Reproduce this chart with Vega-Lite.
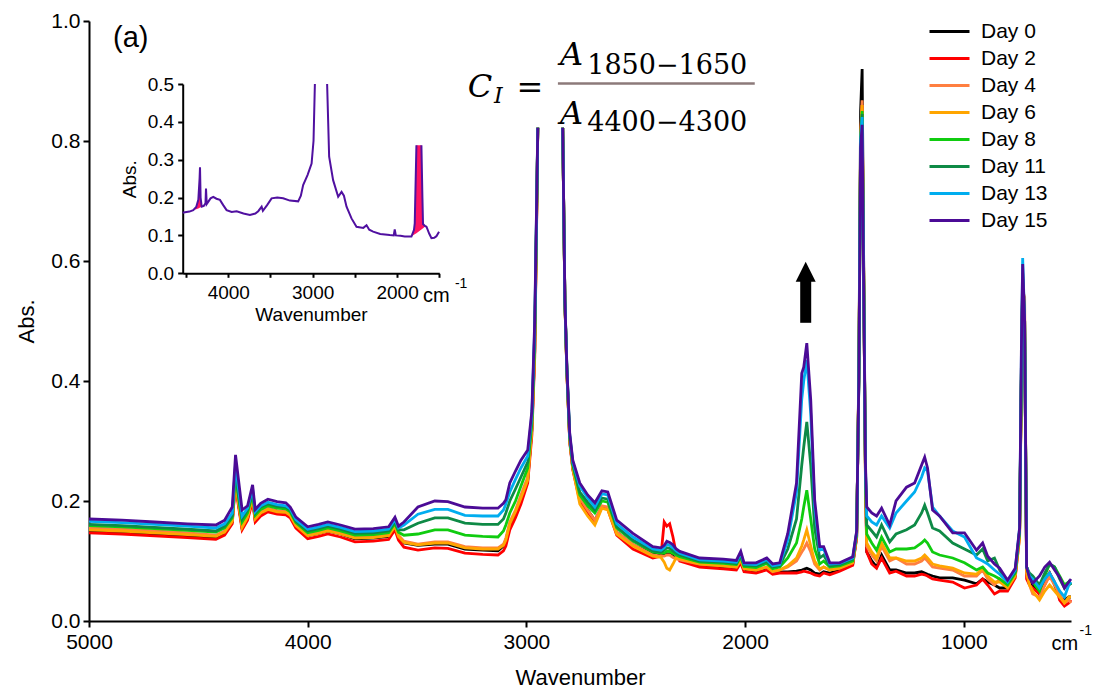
{
  "$schema": "https://vega.github.io/schema/vega-lite/v6.json",
  "width": 982,
  "height": 600,
  "autosize": {"type": "none"},
  "padding": {"left": 89, "top": 21, "right": 26, "bottom": 71},
  "background": "white",
  "config": {
    "view": {"stroke": null},
    "axis": {"grid": false, "domainColor": "#000", "tickColor": "#000", "labelColor": "#000", "titleColor": "#000", "labelFont": "Liberation Sans", "titleFont": "Liberation Sans", "titleFontWeight": "normal", "domainWidth": 2, "tickWidth": 2, "labelFlush": false, "labelOverlap": false, "labelFontSize": 21, "titleFontSize": 22},
    "text": {"font": "Liberation Sans", "color": "#000"}
  },
  "datasets": {
    "spectra": [
      {"wn":5000,"seg":"a","d0":0.150,"d2":0.147,"d4":0.155,"d6":0.152,"d8":0.159,"d11":0.161,"d13":0.166,"d15":0.170},
      {"wn":4850,"seg":"a","d0":0.148,"d2":0.145,"d4":0.153,"d6":0.150,"d8":0.157,"d11":0.159,"d13":0.164,"d15":0.168},
      {"wn":4700,"seg":"a","d0":0.145,"d2":0.142,"d4":0.150,"d6":0.147,"d8":0.154,"d11":0.156,"d13":0.161,"d15":0.165},
      {"wn":4550,"seg":"a","d0":0.142,"d2":0.139,"d4":0.147,"d6":0.144,"d8":0.151,"d11":0.153,"d13":0.158,"d15":0.162},
      {"wn":4420,"seg":"a","d0":0.139,"d2":0.136,"d4":0.143,"d6":0.141,"d8":0.148,"d11":0.150,"d13":0.155,"d15":0.160},
      {"wn":4380,"seg":"a","d0":0.146,"d2":0.143,"d4":0.150,"d6":0.148,"d8":0.155,"d11":0.158,"d13":0.162,"d15":0.168},
      {"wn":4345,"seg":"a","d0":0.165,"d2":0.162,"d4":0.168,"d6":0.166,"d8":0.172,"d11":0.175,"d13":0.180,"d15":0.190},
      {"wn":4330,"seg":"a","d0":0.238,"d2":0.232,"d4":0.240,"d6":0.238,"d8":0.248,"d11":0.255,"d13":0.262,"d15":0.277},
      {"wn":4318,"seg":"a","d0":0.200,"d2":0.195,"d4":0.205,"d6":0.200,"d8":0.210,"d11":0.215,"d13":0.225,"d15":0.240},
      {"wn":4300,"seg":"a","d0":0.155,"d2":0.152,"d4":0.158,"d6":0.156,"d8":0.165,"d11":0.170,"d13":0.175,"d15":0.185},
      {"wn":4275,"seg":"a","d0":0.172,"d2":0.168,"d4":0.175,"d6":0.173,"d8":0.180,"d11":0.185,"d13":0.188,"d15":0.192},
      {"wn":4252,"seg":"a","d0":0.205,"d2":0.200,"d4":0.208,"d6":0.206,"d8":0.212,"d11":0.215,"d13":0.220,"d15":0.227},
      {"wn":4240,"seg":"a","d0":0.168,"d2":0.165,"d4":0.172,"d6":0.170,"d8":0.176,"d11":0.180,"d13":0.182,"d15":0.186},
      {"wn":4215,"seg":"a","d0":0.178,"d2":0.175,"d4":0.182,"d6":0.180,"d8":0.186,"d11":0.190,"d13":0.192,"d15":0.196},
      {"wn":4182,"seg":"a","d0":0.186,"d2":0.182,"d4":0.188,"d6":0.186,"d8":0.192,"d11":0.195,"d13":0.198,"d15":0.203},
      {"wn":4140,"seg":"a","d0":0.182,"d2":0.178,"d4":0.184,"d6":0.182,"d8":0.188,"d11":0.191,"d13":0.194,"d15":0.199},
      {"wn":4100,"seg":"a","d0":0.181,"d2":0.177,"d4":0.183,"d6":0.181,"d8":0.187,"d11":0.190,"d13":0.192,"d15":0.197},
      {"wn":4080,"seg":"a","d0":0.176,"d2":0.172,"d4":0.178,"d6":0.176,"d8":0.182,"d11":0.185,"d13":0.187,"d15":0.190},
      {"wn":4054,"seg":"a","d0":0.160,"d2":0.155,"d4":0.161,"d6":0.159,"d8":0.164,"d11":0.166,"d13":0.169,"d15":0.173},
      {"wn":4000,"seg":"a","d0":0.142,"d2":0.137,"d4":0.144,"d6":0.142,"d8":0.147,"d11":0.150,"d13":0.153,"d15":0.157},
      {"wn":3950,"seg":"a","d0":0.146,"d2":0.141,"d4":0.148,"d6":0.146,"d8":0.151,"d11":0.154,"d13":0.157,"d15":0.161},
      {"wn":3908,"seg":"a","d0":0.150,"d2":0.145,"d4":0.152,"d6":0.150,"d8":0.155,"d11":0.158,"d13":0.161,"d15":0.165},
      {"wn":3850,"seg":"a","d0":0.145,"d2":0.140,"d4":0.147,"d6":0.145,"d8":0.150,"d11":0.153,"d13":0.156,"d15":0.160},
      {"wn":3784,"seg":"a","d0":0.137,"d2":0.132,"d4":0.140,"d6":0.138,"d8":0.143,"d11":0.146,"d13":0.149,"d15":0.153},
      {"wn":3700,"seg":"a","d0":0.138,"d2":0.133,"d4":0.141,"d6":0.139,"d8":0.144,"d11":0.147,"d13":0.150,"d15":0.154},
      {"wn":3630,"seg":"a","d0":0.141,"d2":0.136,"d4":0.144,"d6":0.142,"d8":0.147,"d11":0.150,"d13":0.153,"d15":0.157},
      {"wn":3601,"seg":"a","d0":0.158,"d2":0.152,"d4":0.160,"d6":0.158,"d8":0.163,"d11":0.166,"d13":0.169,"d15":0.173},
      {"wn":3585,"seg":"a","d0":0.140,"d2":0.135,"d4":0.143,"d6":0.141,"d8":0.148,"d11":0.152,"d13":0.155,"d15":0.158},
      {"wn":3560,"seg":"a","d0":0.130,"d2":0.123,"d4":0.133,"d6":0.131,"d8":0.143,"d11":0.152,"d13":0.160,"d15":0.165},
      {"wn":3496,"seg":"a","d0":0.126,"d2":0.118,"d4":0.128,"d6":0.127,"d8":0.145,"d11":0.163,"d13":0.178,"d15":0.190},
      {"wn":3419,"seg":"a","d0":0.128,"d2":0.122,"d4":0.132,"d6":0.130,"d8":0.152,"d11":0.172,"d13":0.186,"d15":0.200},
      {"wn":3359,"seg":"a","d0":0.128,"d2":0.121,"d4":0.132,"d6":0.130,"d8":0.152,"d11":0.172,"d13":0.186,"d15":0.199},
      {"wn":3281,"seg":"a","d0":0.120,"d2":0.113,"d4":0.124,"d6":0.122,"d8":0.143,"d11":0.163,"d13":0.176,"d15":0.190},
      {"wn":3200,"seg":"a","d0":0.118,"d2":0.111,"d4":0.122,"d6":0.120,"d8":0.141,"d11":0.161,"d13":0.175,"d15":0.188},
      {"wn":3130,"seg":"a","d0":0.117,"d2":0.110,"d4":0.122,"d6":0.120,"d8":0.140,"d11":0.161,"d13":0.175,"d15":0.188},
      {"wn":3105,"seg":"a","d0":0.125,"d2":0.117,"d4":0.128,"d6":0.126,"d8":0.150,"d11":0.170,"d13":0.185,"d15":0.196},
      {"wn":3094,"seg":"a","d0":0.135,"d2":0.125,"d4":0.138,"d6":0.135,"d8":0.160,"d11":0.180,"d13":0.195,"d15":0.202},
      {"wn":3076,"seg":"a","d0":0.160,"d2":0.152,"d4":0.165,"d6":0.162,"d8":0.180,"d11":0.200,"d13":0.215,"d15":0.230},
      {"wn":3050,"seg":"a","d0":0.180,"d2":0.172,"d4":0.185,"d6":0.182,"d8":0.200,"d11":0.220,"d13":0.236,"d15":0.250},
      {"wn":3025,"seg":"a","d0":0.205,"d2":0.195,"d4":0.210,"d6":0.205,"d8":0.225,"d11":0.240,"d13":0.255,"d15":0.268},
      {"wn":2994,"seg":"a","d0":0.235,"d2":0.230,"d4":0.240,"d6":0.235,"d8":0.255,"d11":0.265,"d13":0.275,"d15":0.285},
      {"wn":2975,"seg":"a","d0":0.320,"d2":0.310,"d4":0.325,"d6":0.320,"d8":0.330,"d11":0.338,"d13":0.345,"d15":0.350},
      {"wn":2962,"seg":"a","d0":0.450,"d2":0.440,"d4":0.455,"d6":0.450,"d8":0.470,"d11":0.480,"d13":0.490,"d15":0.500},
      {"wn":2953,"seg":"a","d0":0.680,"d2":0.670,"d4":0.685,"d6":0.680,"d8":0.690,"d11":0.695,"d13":0.700,"d15":0.705},
      {"wn":2948,"seg":"a","d0":0.822,"d2":0.822,"d4":0.822,"d6":0.822,"d8":0.822,"d11":0.822,"d13":0.822,"d15":0.822},
      {"wn":2834,"seg":"b","d0":0.822,"d2":0.822,"d4":0.822,"d6":0.822,"d8":0.822,"d11":0.822,"d13":0.822,"d15":0.822},
      {"wn":2824,"seg":"b","d0":0.530,"d2":0.530,"d4":0.530,"d6":0.530,"d8":0.532,"d11":0.533,"d13":0.534,"d15":0.535},
      {"wn":2815,"seg":"b","d0":0.415,"d2":0.412,"d4":0.416,"d6":0.415,"d8":0.418,"d11":0.420,"d13":0.422,"d15":0.423},
      {"wn":2802,"seg":"b","d0":0.300,"d2":0.298,"d4":0.302,"d6":0.300,"d8":0.305,"d11":0.308,"d13":0.310,"d15":0.313},
      {"wn":2788,"seg":"b","d0":0.255,"d2":0.252,"d4":0.256,"d6":0.254,"d8":0.260,"d11":0.262,"d13":0.265,"d15":0.268},
      {"wn":2756,"seg":"b","d0":0.205,"d2":0.200,"d4":0.205,"d6":0.195,"d8":0.210,"d11":0.215,"d13":0.225,"d15":0.230},
      {"wn":2720,"seg":"b","d0":0.185,"d2":0.180,"d4":0.185,"d6":0.175,"d8":0.192,"d11":0.198,"d13":0.205,"d15":0.210},
      {"wn":2687,"seg":"b","d0":0.168,"d2":0.165,"d4":0.168,"d6":0.160,"d8":0.180,"d11":0.185,"d13":0.190,"d15":0.197},
      {"wn":2655,"seg":"b","d0":0.190,"d2":0.190,"d4":0.192,"d6":0.188,"d8":0.200,"d11":0.205,"d13":0.212,"d15":0.217},
      {"wn":2628,"seg":"b","d0":0.188,"d2":0.186,"d4":0.190,"d6":0.185,"d8":0.198,"d11":0.203,"d13":0.210,"d15":0.215},
      {"wn":2587,"seg":"b","d0":0.148,"d2":0.143,"d4":0.148,"d6":0.145,"d8":0.155,"d11":0.157,"d13":0.162,"d15":0.168},
      {"wn":2513,"seg":"b","d0":0.127,"d2":0.120,"d4":0.128,"d6":0.125,"d8":0.133,"d11":0.135,"d13":0.140,"d15":0.146},
      {"wn":2422,"seg":"b","d0":0.112,"d2":0.105,"d4":0.110,"d6":0.108,"d8":0.115,"d11":0.117,"d13":0.120,"d15":0.124},
      {"wn":2385,"seg":"b","d0":0.110,"d2":0.108,"d4":0.108,"d6":0.106,"d8":0.113,"d11":0.115,"d13":0.118,"d15":0.122},
      {"wn":2370,"seg":"b","d0":0.110,"d2":0.165,"d4":0.108,"d6":0.098,"d8":0.113,"d11":0.118,"d13":0.122,"d15":0.126},
      {"wn":2358,"seg":"b","d0":0.112,"d2":0.158,"d4":0.110,"d6":0.088,"d8":0.116,"d11":0.122,"d13":0.128,"d15":0.133},
      {"wn":2345,"seg":"b","d0":0.112,"d2":0.162,"d4":0.110,"d6":0.085,"d8":0.116,"d11":0.121,"d13":0.126,"d15":0.131},
      {"wn":2330,"seg":"b","d0":0.108,"d2":0.140,"d4":0.106,"d6":0.095,"d8":0.113,"d11":0.117,"d13":0.122,"d15":0.127},
      {"wn":2315,"seg":"b","d0":0.105,"d2":0.112,"d4":0.104,"d6":0.106,"d8":0.110,"d11":0.113,"d13":0.117,"d15":0.120},
      {"wn":2299,"seg":"b","d0":0.103,"d2":0.100,"d4":0.102,"d6":0.104,"d8":0.107,"d11":0.110,"d13":0.113,"d15":0.116},
      {"wn":2208,"seg":"b","d0":0.093,"d2":0.090,"d4":0.095,"d6":0.095,"d8":0.098,"d11":0.100,"d13":0.102,"d15":0.105},
      {"wn":2100,"seg":"b","d0":0.090,"d2":0.087,"d4":0.092,"d6":0.092,"d8":0.096,"d11":0.098,"d13":0.100,"d15":0.103},
      {"wn":2040,"seg":"b","d0":0.088,"d2":0.085,"d4":0.090,"d6":0.090,"d8":0.094,"d11":0.096,"d13":0.098,"d15":0.101},
      {"wn":2020,"seg":"b","d0":0.100,"d2":0.097,"d4":0.102,"d6":0.102,"d8":0.107,"d11":0.110,"d13":0.113,"d15":0.116},
      {"wn":2005,"seg":"b","d0":0.085,"d2":0.082,"d4":0.087,"d6":0.087,"d8":0.091,"d11":0.093,"d13":0.095,"d15":0.097},
      {"wn":1950,"seg":"b","d0":0.083,"d2":0.080,"d4":0.085,"d6":0.085,"d8":0.089,"d11":0.092,"d13":0.094,"d15":0.097},
      {"wn":1901,"seg":"b","d0":0.088,"d2":0.085,"d4":0.090,"d6":0.090,"d8":0.096,"d11":0.099,"d13":0.102,"d15":0.105},
      {"wn":1874,"seg":"b","d0":0.080,"d2":0.078,"d4":0.082,"d6":0.083,"d8":0.087,"d11":0.090,"d13":0.092,"d15":0.095},
      {"wn":1842,"seg":"b","d0":0.082,"d2":0.080,"d4":0.085,"d6":0.085,"d8":0.090,"d11":0.092,"d13":0.094,"d15":0.097},
      {"wn":1805,"seg":"b","d0":0.082,"d2":0.080,"d4":0.090,"d6":0.092,"d8":0.105,"d11":0.120,"d13":0.135,"d15":0.146},
      {"wn":1765,"seg":"b","d0":0.083,"d2":0.080,"d4":0.100,"d6":0.105,"d8":0.130,"d11":0.170,"d13":0.215,"d15":0.230},
      {"wn":1741,"seg":"b","d0":0.085,"d2":0.082,"d4":0.115,"d6":0.125,"d8":0.170,"d11":0.260,"d13":0.370,"d15":0.413},
      {"wn":1732,"seg":"b","d0":0.086,"d2":0.083,"d4":0.120,"d6":0.135,"d8":0.190,"d11":0.290,"d13":0.400,"d15":0.423},
      {"wn":1718,"seg":"b","d0":0.088,"d2":0.082,"d4":0.130,"d6":0.152,"d8":0.218,"d11":0.332,"d13":0.435,"d15":0.463},
      {"wn":1700,"seg":"b","d0":0.085,"d2":0.080,"d4":0.115,"d6":0.125,"d8":0.170,"d11":0.260,"d13":0.345,"d15":0.368},
      {"wn":1682,"seg":"b","d0":0.080,"d2":0.077,"d4":0.095,"d6":0.100,"d8":0.120,"d11":0.155,"d13":0.190,"d15":0.202},
      {"wn":1659,"seg":"b","d0":0.078,"d2":0.075,"d4":0.085,"d6":0.087,"d8":0.095,"d11":0.105,"d13":0.118,"d15":0.124},
      {"wn":1641,"seg":"b","d0":0.082,"d2":0.080,"d4":0.090,"d6":0.090,"d8":0.100,"d11":0.110,"d13":0.120,"d15":0.124},
      {"wn":1613,"seg":"b","d0":0.080,"d2":0.077,"d4":0.085,"d6":0.085,"d8":0.090,"d11":0.092,"d13":0.095,"d15":0.097},
      {"wn":1568,"seg":"b","d0":0.085,"d2":0.083,"d4":0.088,"d6":0.088,"d8":0.092,"d11":0.094,"d13":0.096,"d15":0.097},
      {"wn":1508,"seg":"b","d0":0.095,"d2":0.093,"d4":0.097,"d6":0.097,"d8":0.100,"d11":0.103,"d13":0.105,"d15":0.107},
      {"wn":1490,"seg":"b","d0":0.140,"d2":0.138,"d4":0.142,"d6":0.142,"d8":0.145,"d11":0.147,"d13":0.149,"d15":0.150},
      {"wn":1480,"seg":"b","d0":0.420,"d2":0.410,"d4":0.410,"d6":0.410,"d8":0.405,"d11":0.400,"d13":0.400,"d15":0.400},
      {"wn":1472,"seg":"b","d0":0.850,"d2":0.800,"d4":0.810,"d6":0.805,"d8":0.800,"d11":0.800,"d13":0.800,"d15":0.790},
      {"wn":1465,"seg":"b","d0":0.920,"d2":0.860,"d4":0.868,"d6":0.860,"d8":0.850,"d11":0.845,"d13":0.840,"d15":0.827},
      {"wn":1458,"seg":"b","d0":0.600,"d2":0.580,"d4":0.590,"d6":0.580,"d8":0.580,"d11":0.575,"d13":0.570,"d15":0.560},
      {"wn":1450,"seg":"b","d0":0.260,"d2":0.240,"d4":0.245,"d6":0.245,"d8":0.250,"d11":0.255,"d13":0.260,"d15":0.265},
      {"wn":1444,"seg":"b","d0":0.115,"d2":0.115,"d4":0.125,"d6":0.130,"d8":0.145,"d11":0.160,"d13":0.175,"d15":0.190},
      {"wn":1421,"seg":"b","d0":0.100,"d2":0.095,"d4":0.110,"d6":0.115,"d8":0.130,"d11":0.150,"d13":0.165,"d15":0.180},
      {"wn":1399,"seg":"b","d0":0.090,"d2":0.088,"d4":0.100,"d6":0.105,"d8":0.118,"d11":0.140,"d13":0.160,"d15":0.175},
      {"wn":1376,"seg":"b","d0":0.110,"d2":0.105,"d4":0.125,"d6":0.130,"d8":0.140,"d11":0.160,"d13":0.175,"d15":0.188},
      {"wn":1339,"seg":"b","d0":0.085,"d2":0.080,"d4":0.100,"d6":0.105,"d8":0.115,"d11":0.132,"d13":0.155,"d15":0.160},
      {"wn":1310,"seg":"b","d0":0.085,"d2":0.083,"d4":0.105,"d6":0.105,"d8":0.120,"d11":0.145,"d13":0.180,"d15":0.200},
      {"wn":1262,"seg":"b","d0":0.080,"d2":0.075,"d4":0.095,"d6":0.100,"d8":0.120,"d11":0.152,"d13":0.200,"d15":0.223},
      {"wn":1225,"seg":"b","d0":0.080,"d2":0.075,"d4":0.095,"d6":0.100,"d8":0.122,"d11":0.160,"d13":0.215,"d15":0.230},
      {"wn":1193,"seg":"b","d0":0.082,"d2":0.078,"d4":0.100,"d6":0.105,"d8":0.130,"d11":0.180,"d13":0.240,"d15":0.260},
      {"wn":1179,"seg":"b","d0":0.080,"d2":0.077,"d4":0.105,"d6":0.110,"d8":0.135,"d11":0.193,"d13":0.255,"d15":0.273},
      {"wn":1166,"seg":"b","d0":0.078,"d2":0.075,"d4":0.100,"d6":0.105,"d8":0.130,"d11":0.180,"d13":0.250,"d15":0.255},
      {"wn":1143,"seg":"b","d0":0.075,"d2":0.070,"d4":0.090,"d6":0.095,"d8":0.115,"d11":0.155,"d13":0.190,"d15":0.185},
      {"wn":1111,"seg":"b","d0":0.072,"d2":0.068,"d4":0.088,"d6":0.092,"d8":0.110,"d11":0.150,"d13":0.175,"d15":0.175},
      {"wn":1051,"seg":"b","d0":0.072,"d2":0.065,"d4":0.085,"d6":0.088,"d8":0.105,"d11":0.130,"d13":0.150,"d15":0.147},
      {"wn":997,"seg":"b","d0":0.068,"d2":0.055,"d4":0.075,"d6":0.080,"d8":0.097,"d11":0.120,"d13":0.140,"d15":0.147},
      {"wn":942,"seg":"b","d0":0.062,"d2":0.060,"d4":0.075,"d6":0.078,"d8":0.085,"d11":0.110,"d13":0.105,"d15":0.118},
      {"wn":914,"seg":"b","d0":0.070,"d2":0.070,"d4":0.085,"d6":0.088,"d8":0.090,"d11":0.120,"d13":0.100,"d15":0.130},
      {"wn":891,"seg":"b","d0":0.065,"d2":0.060,"d4":0.070,"d6":0.075,"d8":0.080,"d11":0.100,"d13":0.095,"d15":0.108},
      {"wn":860,"seg":"b","d0":0.060,"d2":0.045,"d4":0.060,"d6":0.065,"d8":0.075,"d11":0.105,"d13":0.085,"d15":0.095},
      {"wn":836,"seg":"b","d0":0.055,"d2":0.050,"d4":0.070,"d6":0.065,"d8":0.070,"d11":0.085,"d13":0.078,"d15":0.088},
      {"wn":800,"seg":"b","d0":0.055,"d2":0.050,"d4":0.060,"d6":0.055,"d8":0.060,"d11":0.065,"d13":0.065,"d15":0.068},
      {"wn":765,"seg":"b","d0":0.075,"d2":0.072,"d4":0.078,"d6":0.075,"d8":0.080,"d11":0.082,"d13":0.085,"d15":0.088},
      {"wn":745,"seg":"b","d0":0.150,"d2":0.140,"d4":0.145,"d6":0.140,"d8":0.150,"d11":0.150,"d13":0.155,"d15":0.155},
      {"wn":737,"seg":"b","d0":0.400,"d2":0.400,"d4":0.420,"d6":0.400,"d8":0.410,"d11":0.420,"d13":0.440,"d15":0.450},
      {"wn":731,"seg":"b","d0":0.570,"d2":0.560,"d4":0.550,"d6":0.560,"d8":0.570,"d11":0.580,"d13":0.605,"d15":0.595},
      {"wn":722,"seg":"b","d0":0.500,"d2":0.500,"d4":0.540,"d6":0.500,"d8":0.500,"d11":0.500,"d13":0.500,"d15":0.500},
      {"wn":713,"seg":"b","d0":0.090,"d2":0.070,"d4":0.085,"d6":0.080,"d8":0.090,"d11":0.090,"d13":0.090,"d15":0.090},
      {"wn":700,"seg":"b","d0":0.070,"d2":0.060,"d4":0.060,"d6":0.060,"d8":0.075,"d11":0.080,"d13":0.075,"d15":0.072},
      {"wn":685,"seg":"b","d0":0.060,"d2":0.055,"d4":0.045,"d6":0.050,"d8":0.065,"d11":0.075,"d13":0.070,"d15":0.063},
      {"wn":654,"seg":"b","d0":0.045,"d2":0.045,"d4":0.040,"d6":0.035,"d8":0.050,"d11":0.060,"d13":0.055,"d15":0.075},
      {"wn":630,"seg":"b","d0":0.070,"d2":0.060,"d4":0.060,"d6":0.050,"d8":0.075,"d11":0.080,"d13":0.070,"d15":0.090},
      {"wn":608,"seg":"b","d0":0.080,"d2":0.080,"d4":0.075,"d6":0.060,"d8":0.095,"d11":0.095,"d13":0.080,"d15":0.098},
      {"wn":585,"seg":"b","d0":0.060,"d2":0.065,"d4":0.060,"d6":0.050,"d8":0.090,"d11":0.090,"d13":0.065,"d15":0.085},
      {"wn":562,"seg":"b","d0":0.040,"d2":0.035,"d4":0.045,"d6":0.040,"d8":0.075,"d11":0.070,"d13":0.050,"d15":0.073},
      {"wn":540,"seg":"b","d0":0.035,"d2":0.025,"d4":0.030,"d6":0.030,"d8":0.060,"d11":0.055,"d13":0.040,"d15":0.055},
      {"wn":520,"seg":"b","d0":0.040,"d2":0.030,"d4":0.035,"d6":0.040,"d8":0.065,"d11":0.065,"d13":0.060,"d15":0.065},
      {"wn":510,"seg":"b","d0":0.040,"d2":0.035,"d4":0.030,"d6":0.040,"d8":0.060,"d11":0.060,"d13":0.065,"d15":0.070}
    ],
    "inset": [
      {"wn":4540,"abs":0.160,"seg":"a"},{"wn":4513,"abs":0.161,"seg":"a"},{"wn":4460,"abs":0.163,"seg":"a"},{"wn":4415,"abs":0.167,"seg":"a"},
      {"wn":4380,"abs":0.175,"seg":"a"},{"wn":4355,"abs":0.194,"seg":"a"},{"wn":4340,"abs":0.250,"seg":"a"},{"wn":4335,"abs":0.280,"seg":"a"},
      {"wn":4328,"abs":0.200,"seg":"a"},{"wn":4315,"abs":0.176,"seg":"a"},{"wn":4290,"abs":0.178,"seg":"a"},{"wn":4270,"abs":0.185,"seg":"a"},
      {"wn":4264,"abs":0.224,"seg":"a"},{"wn":4255,"abs":0.183,"seg":"a"},{"wn":4240,"abs":0.188,"seg":"a"},{"wn":4210,"abs":0.198,"seg":"a"},
      {"wn":4178,"abs":0.202,"seg":"a"},{"wn":4140,"abs":0.197,"seg":"a"},{"wn":4099,"abs":0.194,"seg":"a"},{"wn":4060,"abs":0.180,"seg":"a"},
      {"wn":4020,"abs":0.167,"seg":"a"},{"wn":3960,"abs":0.162,"seg":"a"},{"wn":3901,"abs":0.164,"seg":"a"},{"wn":3820,"abs":0.158,"seg":"a"},
      {"wn":3744,"abs":0.154,"seg":"a"},{"wn":3680,"abs":0.158,"seg":"a"},{"wn":3645,"abs":0.164,"seg":"a"},{"wn":3605,"abs":0.176,"seg":"a"},
      {"wn":3590,"abs":0.165,"seg":"a"},{"wn":3540,"abs":0.180,"seg":"a"},{"wn":3487,"abs":0.198,"seg":"a"},{"wn":3420,"abs":0.200,"seg":"a"},
      {"wn":3350,"abs":0.198,"seg":"a"},{"wn":3270,"abs":0.192,"seg":"a"},{"wn":3172,"abs":0.190,"seg":"a"},{"wn":3140,"abs":0.205,"seg":"a"},
      {"wn":3113,"abs":0.233,"seg":"a"},{"wn":3060,"abs":0.260,"seg":"a"},{"wn":3013,"abs":0.290,"seg":"a"},{"wn":2990,"abs":0.350,"seg":"a"},
      {"wn":2974,"abs":0.500,"seg":"a"},
      {"wn":2829,"abs":0.500,"seg":"b"},{"wn":2805,"abs":0.308,"seg":"b"},{"wn":2758,"abs":0.246,"seg":"b"},{"wn":2698,"abs":0.202,"seg":"b"},
      {"wn":2658,"abs":0.215,"seg":"b"},{"wn":2630,"abs":0.205,"seg":"b"},{"wn":2599,"abs":0.176,"seg":"b"},{"wn":2540,"abs":0.145,"seg":"b"},
      {"wn":2481,"abs":0.123,"seg":"b"},{"wn":2400,"abs":0.120,"seg":"b"},{"wn":2362,"abs":0.127,"seg":"b"},{"wn":2330,"abs":0.115,"seg":"b"},
      {"wn":2284,"abs":0.110,"seg":"b"},{"wn":2200,"abs":0.104,"seg":"b"},{"wn":2087,"abs":0.101,"seg":"b"},{"wn":2040,"abs":0.100,"seg":"b"},
      {"wn":2028,"abs":0.116,"seg":"b"},{"wn":2015,"abs":0.100,"seg":"b"},{"wn":1960,"abs":0.099,"seg":"b"},{"wn":1909,"abs":0.097,"seg":"b"},
      {"wn":1830,"abs":0.097,"seg":"b"},{"wn":1800,"abs":0.115,"seg":"b"},{"wn":1791,"abs":0.132,"seg":"b"},{"wn":1771,"abs":0.338,"seg":"b"},
      {"wn":1712,"abs":0.338,"seg":"c"},{"wn":1700,"abs":0.200,"seg":"c"},{"wn":1693,"abs":0.130,"seg":"c"},{"wn":1670,"abs":0.125,"seg":"c"},
      {"wn":1652,"abs":0.123,"seg":"c"},{"wn":1620,"abs":0.105,"seg":"c"},{"wn":1593,"abs":0.093,"seg":"c"},{"wn":1560,"abs":0.094,"seg":"c"},
      {"wn":1534,"abs":0.098,"seg":"c"},{"wn":1503,"abs":0.110,"seg":"c"}
    ],
    "insetFill": [
      {"wn":4394,"abs":0.168,"base":0.168,"grp":"a"},{"wn":4380,"abs":0.175,"base":0.169,"grp":"a"},{"wn":4355,"abs":0.194,"base":0.171,"grp":"a"},
      {"wn":4340,"abs":0.250,"base":0.173,"grp":"a"},{"wn":4335,"abs":0.280,"base":0.174,"grp":"a"},{"wn":4328,"abs":0.200,"base":0.175,"grp":"a"},
      {"wn":4315,"abs":0.176,"base":0.176,"grp":"a"},
      {"wn":1830,"abs":0.097,"base":0.097,"grp":"b"},{"wn":1800,"abs":0.115,"base":0.102,"grp":"b"},{"wn":1791,"abs":0.132,"base":0.103,"grp":"b"},
      {"wn":1771,"abs":0.338,"base":0.106,"grp":"b"},{"wn":1712,"abs":0.338,"base":0.116,"grp":"b"},{"wn":1700,"abs":0.200,"base":0.118,"grp":"b"},
      {"wn":1693,"abs":0.130,"base":0.119,"grp":"b"},{"wn":1670,"abs":0.125,"base":0.123,"grp":"b"},{"wn":1660,"abs":0.124,"base":0.124,"grp":"b"}
    ]
  },
  "layer": [
    {
      "encoding": {
        "x": {"field": "wn", "type": "quantitative", "scale": {"domain": [510, 5000], "reverse": true, "nice": false, "zero": false},
              "axis": {"values": [5000, 4000, 3000, 2000, 1000], "format": "d", "title": "Wavenumber", "tickSize": 6, "labelPadding": 4, "titlePadding": 15}},
        "y": {"field": "abs", "type": "quantitative", "scale": {"domain": [0, 1], "nice": false, "zero": false},
              "axis": {"values": [0, 0.2, 0.4, 0.6, 0.8, 1.0], "format": ".1f", "title": "Abs.", "tickSize": 6, "labelPadding": 3, "titlePadding": 12}}
      },
      "layer": [
        {
          "data": {"name": "spectra"},
          "transform": [{"fold": ["d0", "d2", "d4", "d6", "d8", "d11", "d13", "d15"], "as": ["series", "abs"]}],
          "mark": {"type": "line", "strokeWidth": 2.8},
          "encoding": {
            "color": {"field": "series", "type": "nominal",
              "scale": {"domain": ["d0", "d2", "d4", "d6", "d8", "d11", "d13", "d15"], "range": ["#000000", "#FF0000", "#FF7F40", "#FFA500", "#10CC10", "#0E8A46", "#00ADEF", "#4B0B96"]},
              "legend": {"orient": "none", "legendX": 850, "legendY": 0, "title": null, "labelExpr": "'Day ' + substring(datum.label, 1)", "symbolType": "M-4,0H4", "symbolSize": 100, "symbolStrokeWidth": 3, "labelFontSize": 21, "labelFont": "Liberation Sans", "labelColor": "#000", "labelOffset": 21, "rowPadding": 5, "padding": 0}},
            "detail": {"field": "seg", "type": "nominal"}
          }
        },
        {
          "data": {"values": [{"wn": 1723, "abs": 0.497, "abs2": 0.567}]},
          "mark": {"type": "rule", "strokeWidth": 11, "color": "#000"},
          "encoding": {"y2": {"field": "abs2"}}
        },
        {
          "data": {"values": [{"wn": 1723, "abs": 0.582}]},
          "mark": {"type": "point", "shape": "M-1,1L1,1L0,-1Z", "size": 400, "filled": true, "color": "#000", "opacity": 1}
        },
        {
          "data": {"values": [{"wn": 2856, "wn2": 1956, "abs": 0.896}]},
          "mark": {"type": "rule", "strokeWidth": 2.5, "color": "#8C7A7A"},
          "encoding": {"x2": {"field": "wn2"}}
        },
        {
          "data": {"values": [{"wn": 3268, "abs": 0.874, "t": "C"}, {"wn": 2847, "abs": 0.927, "t": "A"}, {"wn": 2847, "abs": 0.829, "t": "A"}]},
          "mark": {"type": "text", "font": "DejaVu Serif", "fontStyle": "italic", "fontSize": 32, "align": "left", "baseline": "alphabetic"},
          "encoding": {"text": {"field": "t"}}
        },
        {
          "data": {"values": [{"wn": 3148, "abs": 0.863, "t": "I"}]},
          "mark": {"type": "text", "font": "DejaVu Serif", "fontStyle": "italic", "fontSize": 22, "align": "left", "baseline": "alphabetic"},
          "encoding": {"text": {"field": "t"}}
        },
        {
          "data": {"values": [{"wn": 3045, "abs": 0.872, "t": "="}]},
          "mark": {"type": "text", "font": "DejaVu Serif", "fontSize": 32, "align": "left", "baseline": "alphabetic"},
          "encoding": {"text": {"field": "t"}}
        },
        {
          "data": {"values": [{"wn": 2722, "abs": 0.912, "t": "1850−1650"}, {"wn": 2722, "abs": 0.816, "t": "4400−4300"}]},
          "mark": {"type": "text", "font": "DejaVu Serif", "fontSize": 27, "align": "left", "baseline": "alphabetic"},
          "encoding": {"text": {"field": "t"}}
        },
        {
          "data": {"values": [{"wn": 4890, "abs": 0.9725, "t": "(a)"}]},
          "mark": {"type": "text", "fontSize": 29, "align": "left", "baseline": "middle"},
          "encoding": {"text": {"field": "t"}}
        },
        {
          "data": {"values": [{"wn": 599, "abs": -0.048, "t": "cm"}, {"wn": 3473, "abs": 0.532, "t": "cm"}]},
          "mark": {"type": "text", "fontSize": 20, "align": "left", "baseline": "alphabetic"},
          "encoding": {"text": {"field": "t"}}
        },
        {
          "data": {"values": [{"wn": 471, "abs": -0.023, "t": "-1"}, {"wn": 3327, "abs": 0.555, "t": "-1"}]},
          "mark": {"type": "text", "fontSize": 14, "align": "left", "baseline": "alphabetic"},
          "encoding": {"text": {"field": "t"}}
        }
      ]
    },
    {
      "encoding": {
        "x": {"field": "wn", "type": "quantitative", "scale": {"domain": [1500, 4540], "reverse": true, "range": [93.7, 350.3], "nice": false, "zero": false},
              "axis": {"orient": "bottom", "offset": -347.7, "values": [4500, 4000, 3500, 3000, 2500, 2000, 1500], "labelExpr": "datum.value % 1000 === 0 ? datum.label : ''", "format": "d", "tickSize": 4, "labelPadding": 6, "labelFontSize": 19, "title": "Wavenumber", "titleFontSize": 19, "titlePadding": 3}},
        "y": {"field": "abs", "type": "quantitative", "scale": {"domain": [0, 0.5], "range": [252.3, 63], "nice": false, "zero": false},
              "axis": {"orient": "left", "offset": -93.7, "values": [0, 0.1, 0.2, 0.3, 0.4, 0.5], "format": ".1f", "tickSize": 5, "labelPadding": 4, "labelFontSize": 19, "title": "Abs.", "titleFontSize": 19, "titlePadding": 8}}
      },
      "layer": [
        {
          "data": {"name": "insetFill"},
          "mark": {"type": "area", "color": "#FF1463", "opacity": 1},
          "encoding": {"y2": {"field": "base"}, "detail": {"field": "grp", "type": "nominal"}}
        },
        {
          "data": {"name": "inset"},
          "mark": {"type": "line", "strokeWidth": 2, "color": "#5010A0"},
          "encoding": {"detail": {"field": "seg", "type": "nominal"}}
        }
      ]
    }
  ],
  "resolve": {"scale": {"x": "independent", "y": "independent"}}
}
